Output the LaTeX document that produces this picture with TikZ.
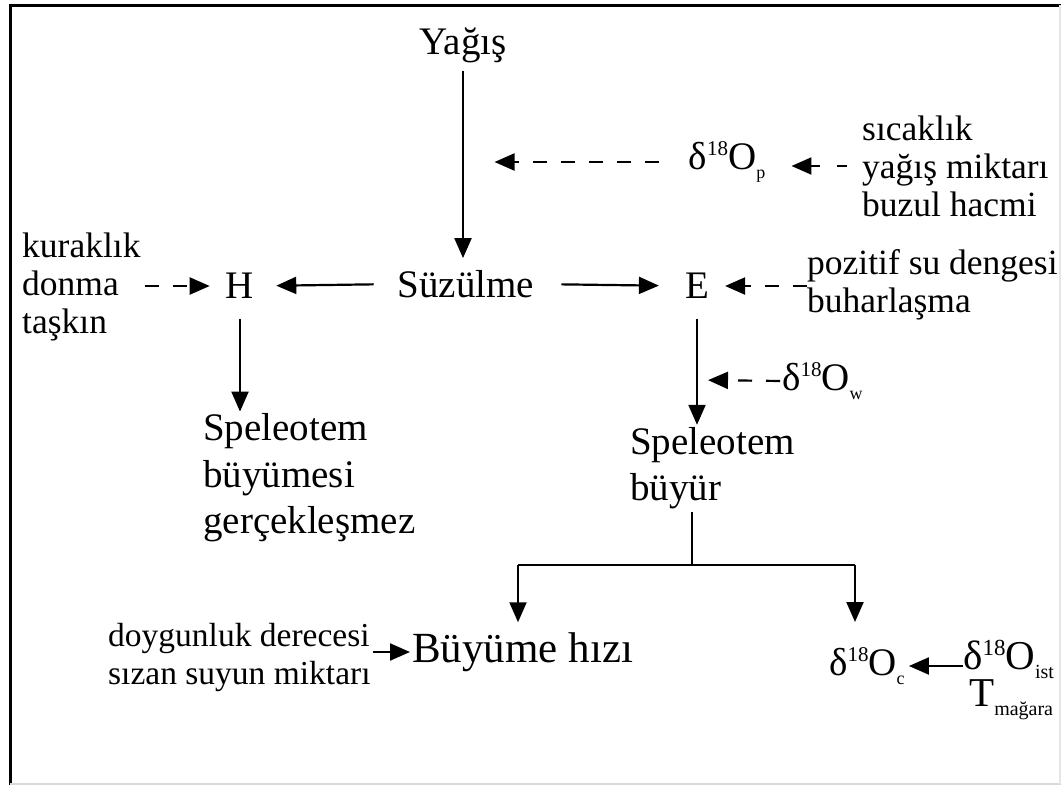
\documentclass[tikz,border=0pt]{standalone}
\usepackage{fontspec}
\setmainfont{Liberation Serif}
\usetikzlibrary{arrows.meta}
\newcommand{\dOx}[1]{δ\raisebox{0.75ex}{\fontsize{21}{21}\selectfont 18}O\raisebox{-0.5ex}{\fontsize{18}{18}\selectfont #1}}
\newcommand{\dOy}[1]{δ\raisebox{0.75ex}{\fontsize{23}{23}\selectfont 18}O\raisebox{-0.5ex}{\fontsize{20}{20}\selectfont #1}}
\begin{document}
\begin{tikzpicture}[x=1pt,y=-1pt,
  big/.style={font=\fontsize{39}{46.5}\selectfont, inner sep=0pt, align=left},
  small/.style={font=\fontsize{35.5}{38}\selectfont, inner sep=0pt, align=left},
  conn/.style={line width=2.2pt},
  arr/.style={conn,-{Triangle[length=20pt,width=17pt]}},
  darr/.style={arr,dash pattern=on 14pt off 14pt}]
\useasboundingbox (0,0) rectangle (1061,785);
\fill[white] (0,0) rectangle (1061,785);
% frame
\draw[line width=3pt] (10,785) -- (10,5) -- (1061,5);
\draw[gray!30,line width=1.5pt] (10,784) -- (1061,784);
\draw[gray!20,line width=1.5pt] (1060,5) -- (1060,784);
% nodes
\node[big] (yagis) at (463,45) {Yağış};
\node[big] (suz) at (466,284) {Süzülme};
\node[big] (H) at (240,286) {H};
\node[big] (E) at (697,286) {E};
\node[big] (dOp) at (727,162) {\dOx{p}};
\node[small,anchor=west] (sic) at (862,166) {sıcaklık\\yağış miktarı\\buzul hacmi};
\node[small,anchor=west] (kur) at (22,287) {kuraklık\\donma\\taşkın};
\node[small,anchor=west] (poz) at (807,285) {pozitif su dengesi\\buharlaşma};
\node[big,anchor=west] (dOw) at (782,381) {\dOx{w}};
\node[big,anchor=west] (spb) at (630,468) {Speleotem\\büyür};
\node[big,anchor=west] (spn) at (203,478) {Speleotem\\büyümesi\\gerçekleşmez};
\node[big,anchor=west,font=\fontsize{43}{50}\selectfont] (buy) at (412,652) {Büyüme hızı};
\node[small,anchor=west,font=\fontsize{33.5}{38}\selectfont] (doy) at (108,657) {doygunluk derecesi\\sızan suyun miktarı};
\node[big,anchor=west] (dOc) at (829,666) {\dOx{c}};
\node[big,align=left,anchor=west,font=\fontsize{41}{46}\selectfont] (dOi) at (963,680) {\dOy{ist}\\[-9pt]\hspace*{6pt}T\raisebox{-0.5ex}{\fontsize{20}{20}\selectfont mağara}};
% junction coordinates
\coordinate (j) at (692,565);
\coordinate (jl) at (518,565);
\coordinate (jr) at (855,565);
\coordinate (ew) at (697,380);
% connectors
\draw[arr] (yagis.south) ++(0,8) -- ([yshift=12pt]suz.north -| yagis.south);
\draw[arr,shorten <=24pt,shorten >=22pt] (suz.west) -- (H.east);
\draw[arr,shorten <=27pt,shorten >=26pt] (suz.east) -- (E.west);
\draw[darr,shorten <=30pt,shorten >=0pt] (dOp.west) -- ([xshift=-194pt]dOp.west);
\draw[arr,dash pattern=on 10pt off 17pt,shorten <=15pt,shorten >=26pt] (sic.west) -- (dOp.east |- sic.west);
\draw[darr,shorten <=4pt,shorten >=16pt] (kur.east |- H.west) -- (H.west);
\draw[darr,shorten >=16pt] (poz.west |- E.east) -- (E.east);
\draw[arr,shorten <=20pt] (E.south) -- ([yshift=2pt]E.south |- spb.north);
\draw[arr,shorten <=20pt] (H.south) -- ([yshift=2pt]H.south |- spn.north);
\draw[darr,shorten <=2pt,shorten >=11pt] (dOw.west) -- (ew);
\draw[conn] (spb.south -| j) ++(0,3) -- (j);
\draw[conn] (jl) -- (jr);
\draw[arr] (jl) -- ([yshift=10pt]jl |- buy.north);
\draw[arr] (jr) -- (jr |- 0,622);
\draw[arr,shorten <=2pt,shorten >=2pt] (doy.east |- buy.west) -- (buy.west);
\draw[arr,shorten >=4pt] (dOi.west |- dOc.east) -- (dOc.east);
\end{tikzpicture}
\end{document}
